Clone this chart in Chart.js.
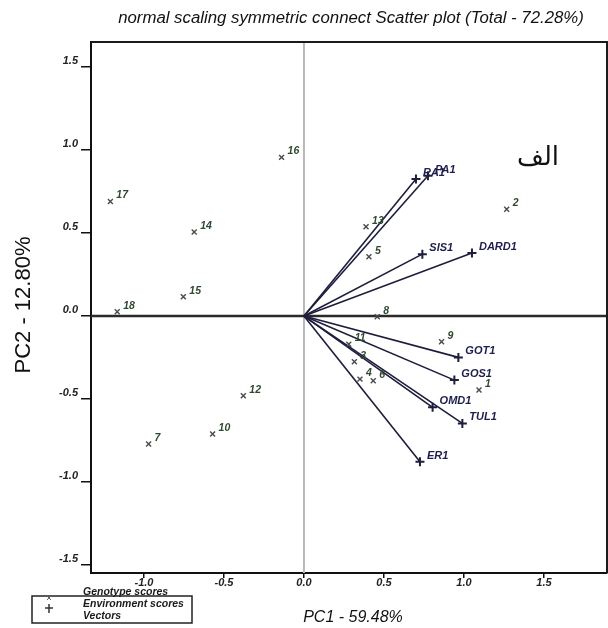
<!DOCTYPE html>
<html>
<head>
<meta charset="utf-8">
<script src="https://cdn.jsdelivr.net/npm/chart.js@4/dist/chart.umd.min.js"></script>
<style>
  html, body { margin:0; padding:0; background:#fff; }
  #wrap { position:relative; width:608px; height:628px; }
  canvas { display:block; }
</style>
</head>
<body>
<div id="wrap"><canvas id="c" width="608" height="628"></canvas></div>
<script>
// ---- Data ----
const titleText = 'normal scaling symmetric connect Scatter plot (Total - 72.28%)';
const xTitle = 'PC1 - 59.48%';
const yTitle = 'PC2 - 12.80%';
const panelTag = 'الف';

const genotypeLabels = ['1','2','3','4','5','6','7','8','9','10','11','12','13','14','15','16','17','18'];
const genotypePC1 = [1.094, 1.267, 0.315, 0.35, 0.406, 0.433, -0.971, 0.458, 0.86, -0.571, 0.28, -0.379, 0.388, -0.686, -0.754, -0.14, -1.21, -1.167];
const genotypePC2 = [-0.446, 0.643, -0.275, -0.38, 0.357, -0.39, -0.771, -0.004, -0.155, -0.711, -0.17, -0.48, 0.538, 0.506, 0.116, 0.956, 0.69, 0.026];

const envLabels = ['PA1','RA1','SIS1','DARD1','GOT1','GOS1','OMD1','TUL1','ER1'];
const envPC1 = [0.775, 0.70, 0.74, 1.05, 0.965, 0.94, 0.804, 0.99, 0.725];
const envPC2 = [0.845, 0.825, 0.373, 0.38, -0.249, -0.386, -0.55, -0.647, -0.878];

const xTickValues = [-1.0, -0.5, 0.0, 0.5, 1.0, 1.5];
const yTickValues = [-1.5, -1.0, -0.5, 0.0, 0.5, 1.0, 1.5];
const legendItems = ['Genotype scores', 'Environment scores', 'Vectors'];

// ---- Styling ----
const FONT = '"Liberation Sans", Arial, Helvetica, sans-serif';
Chart.defaults.font.family = FONT;
const vecColor = '#1d1d3c';
const genoColor = '#4a4a4a';
const genoLabelColor = '#2f4a30';
const envLabelColor = '#1e1e4c';

const genoPts = genotypePC1.map((x, i) => ({ x, y: genotypePC2[i] }));
const envPts = envPC1.map((x, i) => ({ x, y: envPC2[i] }));

const datasets = [
  { label: 'Genotype scores', data: genoPts, pointStyle: 'crossRot', pointRadius: 3.5,
    borderColor: genoColor, backgroundColor: genoColor, pointBorderWidth: 1.4, showLine: false },
  { label: 'Environment scores', data: envPts, pointStyle: 'cross', pointRadius: 4.5,
    borderColor: vecColor, backgroundColor: vecColor, pointBorderWidth: 2, showLine: false }
];
envPts.forEach((p, i) => {
  datasets.push({ label: 'Vector ' + envLabels[i], data: [{ x: 0, y: 0 }, p], showLine: true,
    pointRadius: 0, borderColor: vecColor, borderWidth: 1.6, fill: false });
});

const decor = {
  id: 'decor',
  beforeDatasetsDraw(chart) {
    const { ctx, chartArea: a, scales: { x, y } } = chart;
    const x0 = x.getPixelForValue(0), y0 = y.getPixelForValue(0);
    ctx.save();
    ctx.strokeStyle = '#b8b8b8'; ctx.lineWidth = 2;
    ctx.beginPath(); ctx.moveTo(x0, a.top); ctx.lineTo(x0, a.bottom); ctx.stroke();
    ctx.strokeStyle = '#2a2a2a'; ctx.lineWidth = 2.5;
    ctx.beginPath(); ctx.moveTo(a.left, y0); ctx.lineTo(a.right, y0); ctx.stroke();
    ctx.restore();
  },
  afterDatasetsDraw(chart) {
    const { ctx } = chart;
    ctx.save();
    ctx.textAlign = 'left'; ctx.textBaseline = 'middle';
    const gm = chart.getDatasetMeta(0);
    ctx.font = 'italic bold 10.5px ' + FONT; ctx.fillStyle = genoLabelColor;
    gm.data.forEach((el, i) => ctx.fillText(genotypeLabels[i], el.x + 6, el.y - 6));
    const em = chart.getDatasetMeta(1);
    ctx.font = 'italic bold 11px ' + FONT; ctx.fillStyle = envLabelColor;
    em.data.forEach((el, i) => ctx.fillText(envLabels[i], el.x + 7, el.y - 6));
    ctx.restore();
  },
  afterDraw(chart) {
    const { ctx, chartArea: a } = chart;
    ctx.save();
    // frame top/right
    ctx.strokeStyle = '#1a1a1a'; ctx.lineWidth = 2;
    ctx.beginPath(); ctx.moveTo(a.left, a.top); ctx.lineTo(a.right, a.top); ctx.lineTo(a.right, a.bottom); ctx.stroke();
    // title
    ctx.fillStyle = '#111'; ctx.textAlign = 'center'; ctx.textBaseline = 'middle';
    ctx.font = 'italic 16.8px ' + FONT;
    ctx.fillText(titleText, 351, 18);
    // x title
    ctx.font = 'italic 16px ' + FONT;
    ctx.fillText(xTitle, 353, 618);
    // y title
    ctx.save();
    ctx.translate(24, 305); ctx.rotate(-Math.PI / 2);
    ctx.font = '22px ' + FONT;
    ctx.fillText(yTitle, 0, 0);
    ctx.restore();
    // panel tag
    ctx.font = '26px "Liberation Serif", "DejaVu Sans", serif';
    ctx.fillText(panelTag, 538, 158);
    // legend
    ctx.fillStyle = '#fff'; ctx.fillRect(32, 596, 160, 27);
    ctx.strokeStyle = '#222'; ctx.lineWidth = 1.5;
    ctx.strokeRect(32, 596, 160, 27);
    ctx.fillStyle = '#1a1a1a'; ctx.textAlign = 'left';
    ctx.font = 'italic bold 10.5px ' + FONT;
    ctx.fillText(legendItems[0], 83, 592);
    ctx.fillText(legendItems[1], 83, 604);
    ctx.fillText(legendItems[2], 83, 616);
    ctx.strokeStyle = '#666'; ctx.lineWidth = 1;
    ctx.beginPath(); ctx.moveTo(47, 596); ctx.lineTo(51, 600); ctx.moveTo(51, 596); ctx.lineTo(47, 600); ctx.stroke();
    ctx.strokeStyle = '#333'; ctx.lineWidth = 1.5;
    ctx.beginPath(); ctx.moveTo(49, 604); ctx.lineTo(49, 613); ctx.moveTo(45, 608); ctx.lineTo(53, 608); ctx.stroke();
    ctx.restore();
  }
};

new Chart(document.getElementById('c'), {
  type: 'scatter',
  data: { datasets },
  plugins: [decor],
  options: {
    responsive: false, animation: false, devicePixelRatio: 1,
    layout: { autoPadding: false, padding: { left: 0, right: 1, top: 42, bottom: 25 } },
    plugins: { legend: { display: false }, tooltip: { enabled: false }, title: { display: false } },
    scales: {
      x: {
        type: 'linear', min: -1.331, max: 1.894,
        afterBuildTicks: s => { s.ticks = xTickValues.map(v => ({ value: v })); },
        afterFit: s => { s.height = 30; s.paddingLeft = 0; s.paddingRight = 0; },
        border: { display: true, width: 2, color: '#111' },
        grid: { drawOnChartArea: false, drawTicks: true, tickLength: 5, color: '#111', lineWidth: 1.5 },
        ticks: { padding: -2, color: '#222', font: { size: 11, style: 'italic', weight: 'bold' },
          callback: v => Number(v).toFixed(1) }
      },
      y: {
        type: 'linear', min: -1.548, max: 1.651,
        afterBuildTicks: s => { s.ticks = yTickValues.map(v => ({ value: v })); },
        afterFit: s => { s.width = 91; s.paddingTop = 0; s.paddingBottom = 0; },
        border: { display: true, width: 2, color: '#111' },
        grid: { drawOnChartArea: false, drawTicks: true, tickLength: 10, color: '#111', lineWidth: 1.5 },
        ticks: { padding: 3, labelOffset: -6, color: '#222', font: { size: 11, style: 'italic', weight: 'bold' },
          callback: v => Number(v).toFixed(1) }
      }
    }
  }
});
</script>
</body>
</html>
